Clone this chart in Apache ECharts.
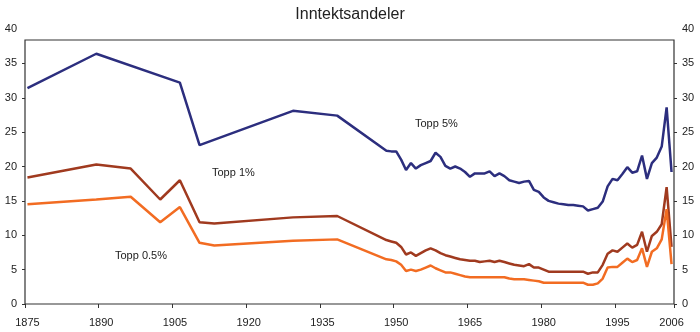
<!DOCTYPE html>
<html>
<head>
<meta charset="utf-8">
<script src="https://cdn.jsdelivr.net/npm/echarts@6/dist/echarts.min.js"></script>
<style>html,body{margin:0;padding:0;background:#fff}#c{width:700px;height:332px}</style>
</head>
<body>
<div id="c"></div>
<script>
// Categories: every year on the axis
const firstYear = 1875, lastYear = 2006;
const categories = [];
for (let y = firstYear; y <= lastYear; y++) categories.push(String(y));

// Tick and label years
const tickYears = ['1875','1890','1905','1920','1935','1950','1965','1980','1995'];
const labelYears = ['1875','1890','1905','1920','1935','1950','1965','1980','1995','2006'];
const yTickValues = [0,5,10,15,20,25,30,35];

// Topp 5%
const top5Years = [1875,1889,1906,1910,1929,1938,1948,1949,1950,1951,1952,1953,1954,1955,1956,1957,1958,1959,1960,1961,1962,1963,1964,1965,1966,1967,1968,1969,1970,1971,1972,1973,1974,1975,1976,1977,1978,1979,1980,1981,1982,1983,1984,1985,1986,1987,1988,1989,1990,1991,1992,1993,1994,1995,1996,1997,1998,1999,2000,2001,2002,2003,2004,2005,2006];
const top5Values = [31.4,36.4,32.2,23.1,28.1,27.4,22.3,22.2,22.2,21.0,19.5,20.5,19.7,20.2,20.5,20.8,22.0,21.4,20.1,19.7,20.0,19.7,19.2,18.5,19.0,19.0,19.0,19.3,18.6,19.0,18.6,18.0,17.8,17.6,17.8,17.9,16.6,16.3,15.5,15.0,14.8,14.6,14.5,14.4,14.4,14.3,14.2,13.6,13.8,14.0,14.9,17.1,18.2,18.0,18.9,19.9,19.1,19.3,21.6,18.2,20.5,21.3,22.9,28.6,19.2];

// Topp 1% and Topp 0.5% share the same years
const topSmallYears = [1875,1889,1896,1902,1906,1910,1913,1929,1938,1948,1949,1950,1951,1952,1953,1954,1955,1956,1957,1958,1959,1960,1961,1962,1963,1964,1965,1966,1967,1968,1969,1970,1971,1972,1973,1974,1975,1976,1977,1978,1979,1980,1981,1982,1983,1984,1985,1986,1987,1988,1989,1990,1991,1992,1993,1994,1995,1996,1997,1998,1999,2000,2001,2002,2003,2004,2005,2006];
const top1Values = [18.4,20.3,19.7,15.2,18.0,11.9,11.7,12.6,12.8,9.3,9.1,8.9,8.3,7.2,7.5,7.0,7.4,7.8,8.1,7.8,7.4,7.1,6.9,6.7,6.5,6.4,6.3,6.3,6.1,6.2,6.3,6.1,6.3,6.1,5.9,5.7,5.6,5.5,5.8,5.3,5.3,5.0,4.7,4.7,4.7,4.7,4.7,4.7,4.7,4.7,4.4,4.6,4.6,5.7,7.3,7.8,7.6,8.2,8.8,8.2,8.6,10.5,7.6,9.9,10.5,11.6,17.0,8.3];
const top05Values = [14.5,15.2,15.6,11.9,14.1,8.9,8.5,9.2,9.4,6.5,6.4,6.2,5.7,4.8,5.0,4.8,5.0,5.3,5.6,5.2,4.9,4.6,4.6,4.4,4.2,4.0,3.9,3.9,3.9,3.9,3.9,3.9,3.9,3.9,3.7,3.6,3.6,3.6,3.5,3.4,3.3,3.1,3.1,3.1,3.1,3.1,3.1,3.1,3.1,3.1,2.8,2.8,3.0,3.7,5.3,5.4,5.4,6.0,6.6,6.1,6.4,8.1,5.4,7.6,8.1,9.4,13.8,5.8];

const seriesNames = ['Topp 5%','Topp 1%','Topp 0.5%'];
const colors = ['#2c2e7e','#a03a1f','#f26c22'];

const pair = (yrs, vals) => yrs.map((y, i) => [String(y), vals[i]]);

const FONT = 'Liberation Sans';
const chart = echarts.init(document.getElementById('c'), null, {renderer: 'canvas'});

const yAxisBase = {
  gridIndex: 0, type: 'value', min: 0, max: 40, interval: 5,
  axisLine: {show: false},
  axisTick: {show: true, length: 3, customValues: yTickValues, lineStyle: {color: '#333', width: 1}},
  splitLine: {show: false},
  axisLabel: {fontFamily: FONT, fontSize: 11, color: '#222', margin: 8}
};

chart.setOption({
  animation: false,
  backgroundColor: '#fff',
  title: {
    text: 'Inntektsandeler', left: 'center', top: 2,
    textStyle: {fontFamily: FONT, fontSize: 16, fontWeight: 'normal', color: '#222'}
  },
  grid: [
    {left: 25, right: 26, top: 29, bottom: 28},
    {left: 25, right: 26, top: 40, bottom: 28, show: true, borderColor: '#333', borderWidth: 1.2, backgroundColor: 'transparent'}
  ],
  xAxis: [
    {
      gridIndex: 0, type: 'category', data: categories, boundaryGap: true,
      axisLine: {show: false},
      axisTick: {show: true, length: 4, interval: (i, v) => tickYears.includes(v), lineStyle: {color: '#333'}},
      axisLabel: {interval: (i, v) => labelYears.includes(v), fontFamily: FONT, fontSize: 11, color: '#222', margin: 13},
      splitLine: {show: false}
    },
    {gridIndex: 1, type: 'value', show: false}
  ],
  yAxis: [
    Object.assign({}, yAxisBase, {position: 'left'}),
    Object.assign({}, yAxisBase, {position: 'right'}),
    {gridIndex: 1, type: 'value', show: false}
  ],
  series: [
    {name: seriesNames[0], type: 'line', xAxisIndex: 0, yAxisIndex: 0, data: pair(top5Years, top5Values), showSymbol: false, symbol: 'none', lineStyle: {color: colors[0], width: 2.5}, itemStyle: {color: colors[0]}},
    {name: seriesNames[1], type: 'line', xAxisIndex: 0, yAxisIndex: 0, data: pair(topSmallYears, top1Values), showSymbol: false, symbol: 'none', lineStyle: {color: colors[1], width: 2.5}, itemStyle: {color: colors[1]}},
    {name: seriesNames[2], type: 'line', xAxisIndex: 0, yAxisIndex: 0, data: pair(topSmallYears, top05Values), showSymbol: false, symbol: 'none', lineStyle: {color: colors[2], width: 2.5}, itemStyle: {color: colors[2]}}
  ],
  graphic: [
    {type: 'text', left: 415, top: 118, style: {text: seriesNames[0], font: '11px ' + FONT, fill: '#222'}},
    {type: 'text', left: 212, top: 167, style: {text: seriesNames[1], font: '11px ' + FONT, fill: '#222'}},
    {type: 'text', left: 115, top: 250, style: {text: seriesNames[2], font: '11px ' + FONT, fill: '#222'}}
  ]
});
</script>
</body>
</html>
